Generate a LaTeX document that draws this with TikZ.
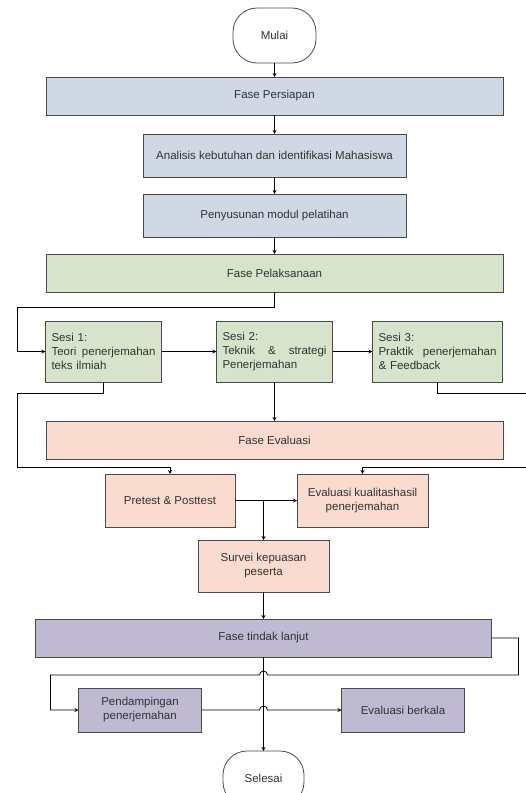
\documentclass[tikz,border=0pt]{standalone}
\usepackage{fontspec}
\setmainfont{Liberation Sans}
\usepackage{xcolor}
\usetikzlibrary{positioning}

\definecolor{prepfill}{HTML}{D0D7E5}
\definecolor{runfill}{HTML}{D8E3CB}
\definecolor{evalfill}{HTML}{FADBCF}
\definecolor{followfill}{HTML}{BFB9D2}
\definecolor{textgray}{HTML}{333333}
\definecolor{edgegray}{HTML}{4A4A4A}

\begin{document}
\begin{tikzpicture}[x=1pt,y=1pt,-,>=stealth,line width=0.8pt,
    every node/.style={font=\fontsize{11.5}{14}\selectfont,text=textgray,outer sep=0pt},
    end node/.style={draw=edgegray,fill=white,rounded corners=24pt,minimum width=83pt,minimum height=55pt,inner sep=0pt},
    phase node/.style={draw=edgegray,minimum width=457pt,minimum height=38pt,inner sep=0pt},
    box node/.style={draw=edgegray,align=center,inner sep=0pt},
    sesi node/.style={draw=edgegray,fill=runfill,text width=104pt,align=left,inner xsep=6pt,minimum height=61pt}]
    \useasboundingbox (0,0) rectangle (526,-793);

    \node[end node] (1) at (274.5,-35.5) {Mulai};
    \node[phase node,fill=prepfill] (2) [below=14pt of 1] {Fase Persiapan};
    \node[box node,fill=prepfill,minimum width=263pt,minimum height=43pt] (3) [below=19pt of 2] {Analisis kebutuhan dan identifikasi Mahasiswa};
    \node[box node,fill=prepfill,minimum width=263pt,minimum height=43pt] (4) [below=17pt of 3] {Penyusunan modul pelatihan};
    \node[phase node,fill=runfill] (5) [below=17pt of 4] {Fase Pelaksanaan};

    \node[sesi node] (7) [below=29pt of 5] {Sesi 2:\\Teknik \hfill\& \hfill strategi\\Penerjemahan};
    \node[sesi node] (6) [left=55pt of 7] {Sesi 1:\\Teori \hfill penerjemahan\\teks ilmiah};
    \node[sesi node,text width=118pt] (8) [right=40pt of 7] {Sesi 3:\\Praktik \hfill penerjemahan\\\& Feedback};

    \node[phase node,fill=evalfill] (9) [below=39pt of 7] {Fase Evaluasi};
    \node[box node,fill=evalfill,minimum width=130pt,minimum height=53pt] (10) [below=15pt of 9, xshift=-104.5pt] {Pretest \& Posttest};
    \node[box node,fill=evalfill,minimum width=131pt,minimum height=53pt] (11) [right=62pt of 10] {Evaluasi kualitashasil\\penerjemahan};
    \node[box node,fill=evalfill,minimum width=131pt,minimum height=52pt] (12) [below=13pt of 10, xshift=93.5pt] {Survei kepuasan\\peserta};

    \node[phase node,fill=followfill,minimum width=456pt] (13) [below=27pt of 12] {Fase tindak lanjut};
    \node[box node,fill=followfill,minimum width=123pt,minimum height=44pt] (14) [below=31pt of 13, xshift=-123.5pt] {Pendampingan\\penerjemahan};
    \node[box node,fill=followfill,minimum width=123pt,minimum height=44pt] (15) [right=140pt of 14] {Evaluasi berkala};
    \node[end node,minimum width=81pt] (16) [below=94pt of 13] {Selesai};

    % rails and crossings
    \coordinate (a) at ([xshift=-28pt]6.west);
    \coordinate (b) at ([yshift=7pt]10.north);
    \coordinate (c) at ([xshift=27pt]8.east);
    \coordinate (d) at ([yshift=-18pt]13.south);
    \coordinate (e) at ([xshift=-28pt]14.west);
    \coordinate (f) at (14.east -| 13.south);

    \path[->,draw=black]
        (1) edge (2)
        (2) edge (3)
        (3) edge (4)
        (4) edge (5)
        (6) edge (7)
        (7) edge (8)
        (7) edge (9)
        (10) edge (11)
        (12) edge (13)
        (13) edge (16);

    \draw[->] (5.south) -- ++(0,-15pt) -| (a) -- (6.west);
    \draw[->] (6.south) -- ++(0,-11pt) -| (a |- b) -| (10.north);
    \draw[->] (8.south) -- ++(0,-11pt) -| (c |- b) -| (11.north);
    \draw[->] (10.east -| 12.north) -- (12.north);
    \draw[->] (13.east) -- ++(27pt,0) |- ([xshift=4pt]d) arc[start angle=0,end angle=180,radius=4pt] -- (e |- d) -- (e) -- (14.west);
    \draw[->] (14.east) -- ([xshift=-4pt]f) arc[start angle=180,end angle=0,radius=4pt] -- (15.west);
\end{tikzpicture}
\end{document}
